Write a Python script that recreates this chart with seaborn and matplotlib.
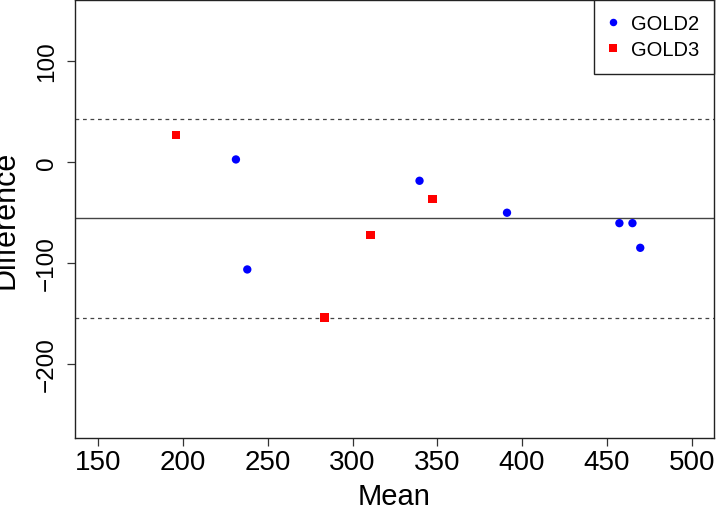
import numpy as np
import pandas as pd
import matplotlib
matplotlib.use("Agg")
import matplotlib.pyplot as plt
import seaborn as sns

# Data (Bland-Altman style)
gold2_mean = [231.2, 237.9, 339.5, 391.1, 457.4, 465.1, 469.7]
gold2_diff = [2.3, -106.5, -18.8, -50.4, -60.7, -60.7, -85.1]
gold3_mean = [195.8, 283.4, 310.5, 347.2]
gold3_diff = [26.7, -154.0, -72.2, -36.6]
groups = ["GOLD2", "GOLD3"]
x_ticks = [150, 200, 250, 300, 350, 400, 450, 500]
y_ticks = [-200, -100, 0, 100]

df = pd.DataFrame({
    "Mean": gold2_mean + gold3_mean,
    "Difference": gold2_diff + gold3_diff,
    "Group": [groups[0]] * len(gold2_mean) + [groups[1]] * len(gold3_mean),
})

sns.set_theme(style="ticks")
plt.rcParams["font.family"] = ["Liberation Sans", "DejaVu Sans"]
plt.rcParams["text.color"] = "black"
plt.rcParams["axes.labelcolor"] = "black"
plt.rcParams["xtick.color"] = "black"
plt.rcParams["ytick.color"] = "black"

fig = plt.figure(figsize=(7.16, 5.06), dpi=100)
ax = fig.add_axes([74.7 / 716, 1 - 439.3 / 506, (714 - 74.7) / 716, (439.3 - 1) / 506])

sns.scatterplot(
    data=df, x="Mean", y="Difference", hue="Group", style="Group",
    palette={"GOLD2": "#0000FF", "GOLD3": "#FF0000"},
    markers={"GOLD2": "o", "GOLD3": "s"},
    s=36, linewidth=0, ax=ax, legend=True, zorder=3,
)

d = np.array(df["Difference"])
m = d.mean()
sd = d.std(ddof=1)
ax.axhline(m, color="#444444", lw=1.0, zorder=2)
ax.axhline(m + 1.96 * sd, color="#444444", lw=0.9, ls=(0, (3, 3)), zorder=2)
ax.axhline(m - 1.96 * sd, color="#444444", lw=0.9, ls=(0, (3, 3)), zorder=2)

ax.set_xlim(136.1, 513.2)
ax.set_ylim(-273.5, 160)
ax.set_xticks(x_ticks)
ax.set_yticks(y_ticks)
ax.tick_params(axis="x", labelsize=20, length=6, width=0.9, pad=2,
               color="#333333", labelcolor="black")
ax.tick_params(axis="y", labelsize=17.5, length=6, width=0.9, pad=6,
               color="#333333", labelcolor="black")
for lab in ax.get_yticklabels():
    lab.set_rotation(90)
    lab.set_va("center")

for sp in ax.spines.values():
    sp.set_visible(True)
    sp.set_color("#222222")
    sp.set_linewidth(1.0)

ax.set_xlabel("Mean", fontsize=21, color="black")
ax.set_ylabel("Difference", fontsize=22, color="black")
ax.xaxis.set_label_coords(0.5, -0.100)
ax.yaxis.set_label_coords(-0.084, 0.5)

handles, labels = ax.get_legend_handles_labels()
leg = ax.legend(
    handles, labels, loc="upper right", bbox_to_anchor=(1.0, 1.0),
    fontsize=14.5, frameon=True, fancybox=False, framealpha=1,
    edgecolor="#222222", borderpad=0.72, labelspacing=0.34,
    handlelength=0.5, handletextpad=0.65, borderaxespad=0, markerscale=0.9,
)
leg.get_frame().set_linewidth(1.0)
for t in leg.get_texts():
    t.set_color("black")

fig.savefig("out.png", dpi=100)
